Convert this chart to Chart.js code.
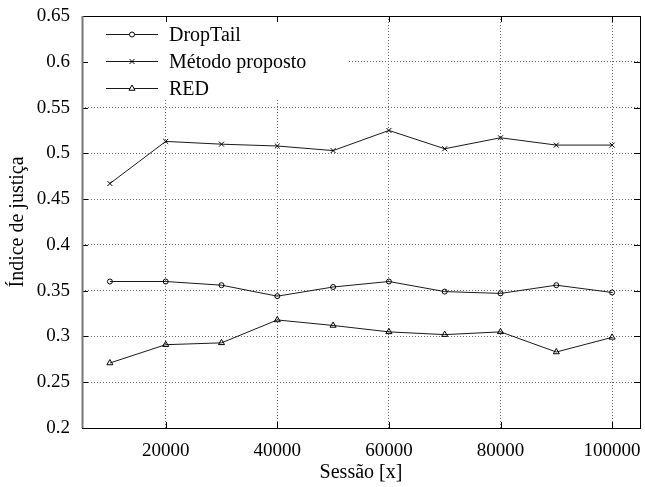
<!DOCTYPE html>
<html lang="pt">
<head>
  <meta charset="UTF-8"/>
  <title>Índice de justiça</title>
  <style>
    body { margin: 0; padding: 0; background: #fff; }
    #chart { display: block; }
  </style>
</head>
<body>
<canvas id="chart" width="645" height="487"></canvas>

<script src="https://cdn.jsdelivr.net/npm/chart.js"></script>
<script>
// data
const sessions = [10000, 20000, 30000, 40000, 50000, 60000, 70000, 80000, 90000, 100000];
const dropTail = [0.360, 0.360, 0.356, 0.344, 0.354, 0.360, 0.349, 0.347, 0.356, 0.348];
const metodoProposto = [0.467, 0.513, 0.510, 0.508, 0.503, 0.525, 0.505, 0.517, 0.509, 0.509];
const red = [0.271, 0.291, 0.293, 0.318, 0.312, 0.305, 0.302, 0.305, 0.283, 0.299];

const xTicks = [20000, 40000, 60000, 80000, 100000];
const yTicks = [0.2, 0.25, 0.3, 0.35, 0.4, 0.45, 0.5, 0.55, 0.6, 0.65];

const FONT = "'Liberation Serif', 'DejaVu Serif', serif";
const LINE = "#1a1a1a";

function toPoints(vals) {
  return sessions.map((s, i) => ({ x: s, y: vals[i] }));
}

function series(label, vals, style, radius) {
  return {
    label: label,
    data: toPoints(vals),
    borderColor: LINE,
    borderWidth: 1,
    pointStyle: style,
    pointRadius: radius,
    pointBorderColor: "#000",
    pointBorderWidth: 1,
    pointBackgroundColor: "rgba(0,0,0,0)",
    tension: 0,
    fill: false
  };
}

// gnuplot-like frame, inward ticks and the key in the upper left
const framePlugin = {
  id: "frame",
  afterDraw(chart) {
    const ctx = chart.ctx;
    const a = chart.chartArea;
    const xs = chart.scales.x;
    const ys = chart.scales.y;
    ctx.save();

    // key background hides the grid behind it
    ctx.fillStyle = "#fff";
    ctx.fillRect(a.left + 1, a.top + 1, 265, 82);

    // inward tick marks on all four sides
    ctx.strokeStyle = "#000";
    ctx.lineWidth = 1;
    ctx.beginPath();
    xTicks.forEach(v => {
      const px = Math.round(xs.getPixelForValue(v)) + 0.5;
      ctx.moveTo(px, a.top); ctx.lineTo(px, a.top + 6);
      ctx.moveTo(px, a.bottom); ctx.lineTo(px, a.bottom - 6);
    });
    yTicks.forEach(v => {
      const py = Math.round(ys.getPixelForValue(v)) + 0.5;
      ctx.moveTo(a.left, py); ctx.lineTo(a.left + 6, py);
      ctx.moveTo(a.right, py); ctx.lineTo(a.right - 6, py);
    });
    ctx.stroke();

    // frame
    ctx.strokeStyle = "#000";
    ctx.strokeRect(Math.round(a.left) + 0.5, Math.round(a.top) + 0.5,
      Math.round(a.right - a.left), Math.round(a.bottom - a.top));
    ctx.strokeStyle = "#777";
    ctx.lineWidth = 2;
    ctx.beginPath();
    ctx.moveTo(Math.round(a.left) + 0.5, a.top);
    ctx.lineTo(Math.round(a.left) + 0.5, a.bottom);
    ctx.stroke();

    // key
    ctx.font = "20px " + FONT;
    ctx.textBaseline = "middle";
    ctx.textAlign = "left";
    chart.data.datasets.forEach((ds, i) => {
      const ry = Math.round(a.top + 18 + i * 27) + 0.5;
      const x0 = a.left + 24, x1 = a.left + 76;
      ctx.strokeStyle = LINE;
      ctx.lineWidth = 1;
      ctx.beginPath();
      ctx.moveTo(x0, ry); ctx.lineTo(x1, ry);
      ctx.stroke();
      ctx.strokeStyle = "#000";
      ctx.fillStyle = "#fff";
      Chart.helpers.drawPoint(ctx, {
        pointStyle: ds.pointStyle, radius: ds.pointRadius, rotation: 0, borderWidth: 1
      }, (x0 + x1) / 2, ry);
      ctx.fillStyle = "#000";
      ctx.fillText(ds.label, a.left + 87, ry + 1);
    });
    ctx.restore();
  }
};

const gridStyle = {
  color: "#6a6a6a",
  lineWidth: 1,
  drawTicks: false
};

new Chart(document.getElementById("chart").getContext("2d"), {
  type: "line",
  data: {
    datasets: [
      series("DropTail", dropTail, "circle", 2.5),
      series("Método proposto", metodoProposto, "crossRot", 3.5),
      series("RED", red, "triangle", 3.5)
    ]
  },
  options: {
    responsive: false,
    animation: false,
    layout: { padding: { top: 16, right: 3, left: 0, bottom: 0 } },
    plugins: {
      legend: { display: false },
      tooltip: { enabled: false }
    },
    scales: {
      x: {
        type: "linear",
        min: 5000,
        max: 105000,
        afterBuildTicks: s => { s.ticks = xTicks.map(v => ({ value: v })); },
        afterFit: s => { s.height = 59; s.paddingLeft = 0; s.paddingRight = 0; },
        border: { display: false, dash: [1, 2] },
        grid: gridStyle,
        ticks: {
          color: "#000",
          font: { family: FONT, size: 19 },
          padding: 12,
          maxRotation: 0,
          callback: v => String(v)
        },
        title: {
          display: true,
          text: "Sessão [x]",
          color: "#000",
          font: { family: FONT, size: 20 },
          padding: { top: 0, bottom: 2 }
        }
      },
      y: {
        min: 0.2,
        max: 0.65,
        afterBuildTicks: s => { s.ticks = yTicks.map(v => ({ value: v })); },
        afterFit: s => { s.width = 82; s.paddingTop = 0; s.paddingBottom = 0; },
        border: { display: false, dash: [1, 2] },
        grid: gridStyle,
        ticks: {
          color: "#000",
          font: { family: FONT, size: 19 },
          padding: 12,
          callback: v => String(Number(v.toFixed(2)))
        },
        title: {
          display: true,
          text: "Índice de justiça",
          color: "#000",
          font: { family: FONT, size: 20 },
          padding: { top: 6, bottom: 0 }
        }
      }
    }
  },
  plugins: [framePlugin]
});
</script>
</body>
</html>
